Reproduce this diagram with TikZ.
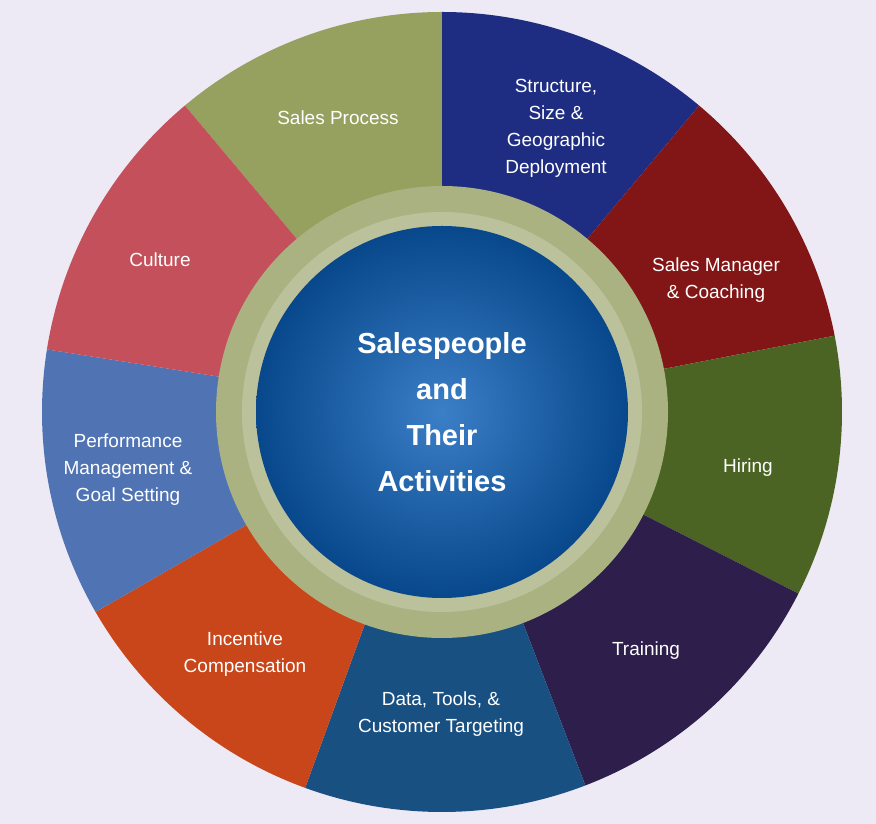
\documentclass[tikz,border=0pt]{standalone}
\usepackage{fontspec}
\setmainfont{Liberation Sans}
\definecolor{bgcol}{RGB}{238,234,245}
\definecolor{procol}{RGB}{150,160,95}
\definecolor{strcol}{RGB}{30,45,130}
\definecolor{mgrcol}{RGB}{130,22,22}
\definecolor{hircol}{RGB}{75,100,35}
\definecolor{trncol}{RGB}{45,30,75}
\definecolor{datcol}{RGB}{25,80,130}
\definecolor{inccol}{RGB}{200,70,25}
\definecolor{percol}{RGB}{80,115,180}
\definecolor{culcol}{RGB}{195,80,90}
\definecolor{ringcol}{RGB}{170,178,130}
\definecolor{coreblue}{RGB}{10,95,185}
\begin{document}
\begin{tikzpicture}[x=1pt,y=1pt,
    lbl/.style={text=white,font=\fontsize{19}{27}\selectfont,align=center}]
    \tikzset{
       title/.style={text=white,font=\bfseries\fontsize{29}{46}\selectfont,align=center}
    };
    %--------------------
    \fill[bgcol] (0,0) rectangle (876,824);
    \useasboundingbox (0,0) rectangle (876,824);
    \coordinate (ctr) at (442,412);
    \foreach \a/\b/\c in {90/130/procol, 50/90/strcol, 11/50/mgrcol, -27/11/hircol,
                          -69/-27/trncol, -110/-69/datcol, -150/-110/inccol,
                          -189/-150/percol, -230/-189/culcol}
        \fill[\c] (ctr) -- ++(\a:400) arc (\a:\b:400) -- cycle;
    \fill[ringcol] (ctr) circle (226);
    \fill[ringcol!80!white] (ctr) circle (200);
    \shade[inner color=coreblue!80!white, outer color=coreblue!75!black] (ctr) circle (186);
    %--------------------
    \node[lbl] (process) at (338,706) {Sales Process};
    \node[lbl] (structure) at (556,696) {Structure,\\Size \&\\Geographic\\Deployment};
    \node[lbl] (manager) at (716,544) {Sales Manager\\\& Coaching};
    \node[lbl] (hiring) at (748,356) {Hiring};
    \node[lbl] (training) at (646,173) {Training};
    \node[lbl] (data) at (441,110) {Data, Tools, \&\\Customer Targeting};
    \node[lbl] (incentive) at (245,170) {Incentive\\Compensation};
    \node[lbl] (perf) at (128,354) {Performance\\Management \&\\Goal Setting};
    \node[lbl] (culture) at (160,564) {Culture};
    \node[title] (core) at (ctr) {Salespeople\\and\\Their\\Activities};
\end{tikzpicture}
\end{document}
